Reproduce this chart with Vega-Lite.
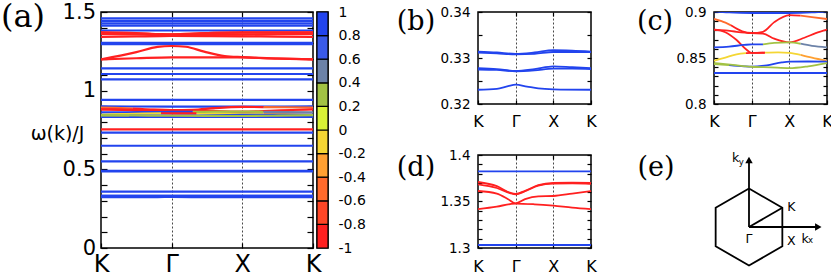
{
"$schema":"https://vega.github.io/schema/vega-lite/v6.json",
"padding":{"left":0,"top":0,"right":0,"bottom":0},
"spacing":29,
"config":{"view":{"stroke":"black","strokeWidth":1.5},"axis":{"domain":false,"grid":false,"tickColor":"black","tickWidth":1.2,"labelFont":"DejaVu Sans","labelColor":"black"}},
"datasets":{
"bands":[
{"s":"b1","k":0,"w":0.3231,"c":1},{"s":"b1","k":0.5,"w":0.3233,"c":1},{"s":"b1","k":0.8,"w":0.3239,"c":1},{"s":"b1","k":1,"w":0.3242,"c":1},{"s":"b1","k":1.3,"w":0.3238,"c":1},{"s":"b1","k":1.6,"w":0.3234,"c":1},{"s":"b1","k":2,"w":0.3232,"c":1},{"s":"b1","k":3,"w":0.3231,"c":1},
{"s":"b2a","k":0,"w":0.3278,"c":1},{"s":"b2a","k":0.5,"w":0.3276,"c":1},{"s":"b2a","k":1,"w":0.3272,"c":1},{"s":"b2a","k":1.5,"w":0.3276,"c":1},{"s":"b2a","k":2,"w":0.3282,"c":1},{"s":"b2a","k":2.5,"w":0.328,"c":1},{"s":"b2a","k":3,"w":0.3278,"c":1},
{"s":"b2b","k":0,"w":0.3275,"c":1},{"s":"b2b","k":0.5,"w":0.3274,"c":1},{"s":"b2b","k":1,"w":0.3271,"c":1},{"s":"b2b","k":1.5,"w":0.3273,"c":1},{"s":"b2b","k":2,"w":0.3277,"c":1},{"s":"b2b","k":2.5,"w":0.3277,"c":1},{"s":"b2b","k":3,"w":0.3276,"c":1},
{"s":"b3a","k":0,"w":0.3314,"c":1},{"s":"b3a","k":0.5,"w":0.3312,"c":1},{"s":"b3a","k":1,"w":0.3309,"c":1},{"s":"b3a","k":1.5,"w":0.3312,"c":1},{"s":"b3a","k":2,"w":0.3317,"c":1},{"s":"b3a","k":2.5,"w":0.3316,"c":1},{"s":"b3a","k":3,"w":0.3314,"c":1},
{"s":"b3b","k":0,"w":0.3312,"c":1},{"s":"b3b","k":0.5,"w":0.331,"c":1},{"s":"b3b","k":1,"w":0.3308,"c":1},{"s":"b3b","k":1.5,"w":0.3309,"c":1},{"s":"b3b","k":2,"w":0.3313,"c":1},{"s":"b3b","k":2.5,"w":0.3313,"c":1},{"s":"b3b","k":3,"w":0.3313,"c":1},
{"s":"f1","k":0,"w":0.358,"c":1},{"s":"f1","k":3,"w":0.358,"c":1},
{"s":"f2","k":0,"w":0.487,"c":1},{"s":"f2","k":3,"w":0.487,"c":1},
{"s":"f3","k":0,"w":0.491,"c":1},{"s":"f3","k":3,"w":0.491,"c":1},
{"s":"f4","k":0,"w":0.551,"c":1},{"s":"f4","k":3,"w":0.551,"c":1},
{"s":"f5","k":0,"w":0.65,"c":1},{"s":"f5","k":3,"w":0.65,"c":1},
{"s":"f6","k":0,"w":0.733,"c":1},{"s":"f6","k":3,"w":0.733,"c":1},
{"s":"r0","k":0,"w":0.754,"c":-0.9},{"s":"r0","k":3,"w":0.754,"c":-0.9},
{"s":"f7","k":0,"w":0.8337,"c":1},{"s":"f7","k":3,"w":0.8337,"c":1},
{"s":"f8","k":0,"w":0.941,"c":1},{"s":"f8","k":3,"w":0.941,"c":1},
{"s":"f9","k":0,"w":1.072,"c":1},{"s":"f9","k":3,"w":1.072,"c":1},
{"s":"f10","k":0,"w":1.106,"c":1},{"s":"f10","k":3,"w":1.106,"c":1},
{"s":"f11","k":0,"w":1.142,"c":1},{"s":"f11","k":3,"w":1.142,"c":1},
{"s":"f12","k":0,"w":1.296,"c":1},{"s":"f12","k":3,"w":1.296,"c":1},
{"s":"f13","k":0,"w":1.3032,"c":1},{"s":"f13","k":3,"w":1.3032,"c":1},
{"s":"f14","k":0,"w":1.3825,"c":1},{"s":"f14","k":3,"w":1.3825,"c":1},
{"s":"f15","k":0,"w":1.413,"c":1},{"s":"f15","k":3,"w":1.413,"c":1},
{"s":"f16","k":0,"w":1.428,"c":1},{"s":"f16","k":3,"w":1.428,"c":1},
{"s":"f17","k":0,"w":1.443,"c":1},{"s":"f17","k":3,"w":1.443,"c":1},
{"s":"f18","k":0,"w":1.46,"c":1},{"s":"f18","k":3,"w":1.46,"c":1},
{"s":"t9","k":0,"w":0.9008,"c":1},{"s":"t9","k":0.4,"w":0.8995,"c":1},{"s":"t9","k":1,"w":0.8989,"c":1},{"s":"t9","k":2,"w":0.8989,"c":1},{"s":"t9","k":2.6,"w":0.8995,"c":1},{"s":"t9","k":3,"w":0.9008,"c":1},
{"s":"A1","k":0,"w":0.8924,"c":-0.5},{"s":"A1","k":0.2,"w":0.89,"c":-0.5},{"s":"A1","k":0.45,"w":0.8855,"c":-0.5},
{"s":"A2","k":0.45,"w":0.8855,"c":-0.9},{"s":"A2","k":0.75,"w":0.879,"c":-0.9},{"s":"A2","k":1,"w":0.8772,"c":-0.9},{"s":"A2","k":1.3,"w":0.8785,"c":-0.9},{"s":"A2","k":1.6,"w":0.889,"c":-0.9},{"s":"A2","k":2,"w":0.8967,"c":-0.9},{"s":"A2","k":2.3,"w":0.896,"c":-0.9},
{"s":"A3","k":2.3,"w":0.896,"c":-0.5},{"s":"A3","k":2.6,"w":0.8945,"c":-0.5},{"s":"A3","k":3,"w":0.8924,"c":-0.5},
{"s":"B1","k":0,"w":0.8808,"c":-0.9},{"s":"B1","k":0.3,"w":0.878,"c":-0.9},{"s":"B1","k":0.6,"w":0.8695,"c":-0.9},{"s":"B1","k":0.85,"w":0.8595,"c":-0.9},{"s":"B1","k":1,"w":0.8555,"c":-0.9},{"s":"B1","k":1.35,"w":0.8558,"c":-0.9},
{"s":"B2","k":1.35,"w":0.8558,"c":-0.05},{"s":"B2","k":1.7,"w":0.8561,"c":-0.05},{"s":"B2","k":2,"w":0.8556,"c":-0.05},{"s":"B2","k":2.3,"w":0.8535,"c":-0.05},
{"s":"B3","k":2.3,"w":0.8535,"c":-0.3},{"s":"B3","k":2.6,"w":0.8505,"c":-0.3},{"s":"B3","k":3,"w":0.847,"c":-0.3},
{"s":"C1","k":0,"w":0.8808,"c":-0.9},{"s":"C1","k":0.3,"w":0.88,"c":-0.9},{"s":"C1","k":0.6,"w":0.8785,"c":-0.9},{"s":"C1","k":1,"w":0.877,"c":-0.9},{"s":"C1","k":1.3,"w":0.8765,"c":-0.9},{"s":"C1","k":1.6,"w":0.871,"c":-0.9},{"s":"C1","k":2,"w":0.867,"c":-0.9},{"s":"C1","k":2.4,"w":0.872,"c":-0.9},{"s":"C1","k":2.7,"w":0.877,"c":-0.9},{"s":"C1","k":3,"w":0.8808,"c":-0.9},
{"s":"E1","k":0,"w":0.8616,"c":0.9},{"s":"E1","k":0.4,"w":0.8624,"c":0.9},{"s":"E1","k":0.8,"w":0.8642,"c":0.9},{"s":"E1","k":1,"w":0.8648,"c":0.9},{"s":"E1","k":1.3,"w":0.8648,"c":0.9},
{"s":"E2","k":1.3,"w":0.8648,"c":0.3},{"s":"E2","k":1.6,"w":0.8665,"c":0.3},{"s":"E2","k":2,"w":0.867,"c":0.3},{"s":"E2","k":2.3,"w":0.8655,"c":0.3},
{"s":"E3","k":2.3,"w":0.8655,"c":0.5},{"s":"E3","k":2.6,"w":0.8632,"c":0.5},{"s":"E3","k":3,"w":0.8616,"c":0.5},
{"s":"D1","k":0,"w":0.847,"c":-0.05},{"s":"D1","k":0.3,"w":0.8505,"c":-0.05},{"s":"D1","k":0.6,"w":0.854,"c":-0.05},{"s":"D1","k":0.85,"w":0.8553,"c":-0.05},
{"s":"D2","k":0.85,"w":0.8553,"c":-0.9},{"s":"D2","k":1,"w":0.8555,"c":-0.9},{"s":"D2","k":1.35,"w":0.8557,"c":-0.9},
{"s":"F1","k":0,"w":0.8434,"c":0.3},{"s":"F1","k":0.4,"w":0.8422,"c":0.3},
{"s":"F2","k":0.4,"w":0.8422,"c":0.9},{"s":"F2","k":0.8,"w":0.841,"c":0.9},{"s":"F2","k":1,"w":0.8407,"c":0.9},{"s":"F2","k":1.4,"w":0.842,"c":0.9},{"s":"F2","k":1.8,"w":0.8452,"c":0.9},{"s":"F2","k":2,"w":0.846,"c":0.9},{"s":"F2","k":2.5,"w":0.8462,"c":0.9},{"s":"F2","k":3,"w":0.846,"c":0.9},
{"s":"G1","k":0,"w":0.8445,"c":0.3},{"s":"G1","k":0.5,"w":0.8425,"c":0.3},{"s":"G1","k":1,"w":0.8405,"c":0.3},{"s":"G1","k":1.5,"w":0.8398,"c":0.3},{"s":"G1","k":2,"w":0.839,"c":0.3},{"s":"G1","k":2.5,"w":0.841,"c":0.3},{"s":"G1","k":3,"w":0.8445,"c":0.3},
{"s":"r1","k":0,"w":1.199,"c":-0.9},{"s":"r1","k":0.5,"w":1.245,"c":-0.9},{"s":"r1","k":0.8,"w":1.278,"c":-0.9},{"s":"r1","k":1,"w":1.284,"c":-0.9},{"s":"r1","k":1.2,"w":1.279,"c":-0.9},{"s":"r1","k":1.46,"w":1.248,"c":-0.9},{"s":"r1","k":1.75,"w":1.22,"c":-0.9},{"s":"r1","k":2,"w":1.213,"c":-0.9},{"s":"r1","k":2.4,"w":1.206,"c":-0.9},{"s":"r1","k":3,"w":1.199,"c":-0.9},
{"s":"r2","k":0,"w":1.199,"c":-0.9},{"s":"r2","k":0.5,"w":1.206,"c":-0.9},{"s":"r2","k":1,"w":1.212,"c":-0.9},{"s":"r2","k":1.5,"w":1.212,"c":-0.9},{"s":"r2","k":2,"w":1.211,"c":-0.9},{"s":"r2","k":2.5,"w":1.204,"c":-0.9},{"s":"r2","k":3,"w":1.199,"c":-0.9},
{"s":"d1","k":0,"w":1.371,"c":-0.9},{"s":"d1","k":0.5,"w":1.3665,"c":-0.9},{"s":"d1","k":0.85,"w":1.3595,"c":-0.9},{"s":"d1","k":1,"w":1.3583,"c":-0.9},{"s":"d1","k":1.25,"w":1.3615,"c":-0.9},{"s":"d1","k":1.6,"w":1.3675,"c":-0.9},{"s":"d1","k":2,"w":1.37,"c":-0.9},{"s":"d1","k":2.5,"w":1.3702,"c":-0.9},{"s":"d1","k":3,"w":1.37,"c":-0.9},
{"s":"d2","k":0,"w":1.3685,"c":-0.9},{"s":"d2","k":0.5,"w":1.3645,"c":-0.9},{"s":"d2","k":0.85,"w":1.359,"c":-0.9},{"s":"d2","k":1,"w":1.3577,"c":-0.9},{"s":"d2","k":1.25,"w":1.361,"c":-0.9},{"s":"d2","k":1.6,"w":1.367,"c":-0.9},{"s":"d2","k":2,"w":1.3692,"c":-0.9},{"s":"d2","k":2.5,"w":1.3694,"c":-0.9},{"s":"d2","k":3,"w":1.369,"c":-0.9},
{"s":"d3","k":0,"w":1.3613,"c":-0.9},{"s":"d3","k":0.5,"w":1.3585,"c":-0.9},{"s":"d3","k":0.8,"w":1.3525,"c":-0.9},{"s":"d3","k":1,"w":1.348,"c":-0.9},{"s":"d3","k":1.25,"w":1.3525,"c":-0.9},{"s":"d3","k":1.6,"w":1.3555,"c":-0.9},{"s":"d3","k":2,"w":1.3559,"c":-0.9},{"s":"d3","k":2.5,"w":1.3585,"c":-0.9},{"s":"d3","k":3,"w":1.3613,"c":-0.9},
{"s":"d4","k":0,"w":1.3419,"c":-0.9},{"s":"d4","k":0.5,"w":1.3445,"c":-0.9},{"s":"d4","k":0.85,"w":1.3472,"c":-0.9},{"s":"d4","k":1,"w":1.3478,"c":-0.9},{"s":"d4","k":1.5,"w":1.347,"c":-0.9},{"s":"d4","k":2,"w":1.3455,"c":-0.9},{"s":"d4","k":2.5,"w":1.3435,"c":-0.9},{"s":"d4","k":3,"w":1.3419,"c":-0.9}
],
"cbar":[{"lo":-1,"hi":-0.8,"c":-0.9},{"lo":-0.8,"hi":-0.6,"c":-0.7},{"lo":-0.6,"hi":-0.4,"c":-0.5},{"lo":-0.4,"hi":-0.2,"c":-0.3},{"lo":-0.2,"hi":0,"c":-0.1},{"lo":0,"hi":0.2,"c":0.1},{"lo":0.2,"hi":0.4,"c":0.3},{"lo":0.4,"hi":0.6,"c":0.5},{"lo":0.6,"hi":0.8,"c":0.7},{"lo":0.8,"hi":1,"c":0.9}],
"geo":[
{"g":"hex","o":0,"x":0,"y":1},{"g":"hex","o":1,"x":0.866,"y":0.5},{"g":"hex","o":2,"x":0.866,"y":-0.5},{"g":"hex","o":3,"x":0,"y":-1},{"g":"hex","o":4,"x":-0.866,"y":-0.5},{"g":"hex","o":5,"x":-0.866,"y":0.5},{"g":"hex","o":6,"x":0,"y":1},
{"g":"gk","o":0,"x":0,"y":0},{"g":"gk","o":1,"x":0.866,"y":0.5},
{"g":"ky","o":0,"x":0,"y":0},{"g":"ky","o":1,"x":0,"y":1.74},
{"g":"kx","o":0,"x":0,"y":0},{"g":"kx","o":1,"x":1.8,"y":0}
],
"arrows":[{"a":"ky","x":0,"y":1.74},{"a":"kx","x":1.8,"y":0}],
"lbl":[{"t":"K","x":1.1,"y":0.51},{"t":"X","x":1.1,"y":-0.356},{"t":"Γ","x":0,"y":-0.32},{"t":"k","x":-0.35,"y":1.79},{"t":"k","x":1.46,"y":-0.3}],
"sub":[{"t":"y","x":-0.2,"y":1.7},{"t":"x","x":1.6,"y":-0.35}]
},
"hconcat":[
{"hconcat":[
 {"width":212,"height":236,
  "layer":[
   {"data":{"name":"bands"},"mark":{"type":"line","interpolate":"monotone","strokeWidth":2.2,"clip":true},
    "encoding":{
     "x":{"field":"k","type":"quantitative","scale":{"domain":[0,3],"nice":false,"zero":false},
      "axis":{"orient":"bottom","values":[0,1,2,3],"labelExpr":"['K','Γ','X','K'][datum.value]","labelFontSize":24,"labelFlush":false,"labelOverlap":false,"tickSize":-5,"labelPadding":9.6,"title":null}},
     "y":{"field":"w","type":"quantitative","scale":{"domain":[0,1.5],"nice":false,"zero":false},
      "axis":{"values":[0,0.1,0.2,0.3,0.4,0.5,0.6,0.7,0.8,0.9,1,1.1,1.2,1.3,1.4,1.5],"labelExpr":"abs(datum.value*2-round(datum.value*2))<1e-6 ? format(datum.value,'~g') : ''","labelFontSize":21,"labelOverlap":false,"tickSize":-6,"labelPadding":11.5,
       "title":"ω(k)/J","titleAngle":0,"titleX":-44,"titleY":121,"titleAlign":"center","titleBaseline":"middle","titleFontSize":19,"titleFontWeight":"normal","titleFont":"DejaVu Sans","titleColor":"black"}},
     "detail":{"field":"s"},
     "color":{"field":"c","type":"quantitative","scale":{"type":"quantize","domain":[-1,1],"range":["#ff2020","#ff4626","#ff6a2c","#ffa032","#f4d634","#d8f236","#a2c244","#6c82a8","#3a5ae8","#2244ee"]},"legend":null}}},
   {"data":{"values":[{"t":"(a)"}]},"mark":{"type":"text","font":"DejaVu Serif","fontSize":32,"align":"center","baseline":"middle","color":"black"},
    "encoding":{
     "text":{"field":"t"},
     "x":{"datum":-1.105,"type":"quantitative","scale":{"domain":[0,3],"nice":false,"zero":false},"axis":{"orient":"top","values":[1,2],"labels":false,"tickSize":-5,"grid":true,"gridDash":[2,2],"gridColor":"#333","gridWidth":0.9,"title":null}},
     "y":{"datum":1.468,"type":"quantitative","scale":{"domain":[0,1.5],"nice":false,"zero":false},"axis":{"orient":"right","values":[0,0.1,0.2,0.3,0.4,0.5,0.6,0.7,0.8,0.9,1,1.1,1.2,1.3,1.4,1.5],"labels":false,"tickSize":-6,"title":null}}}}
  ],
  "resolve":{"scale":{"x":"independent","y":"independent"}}},
 {"width":11,"height":236,"data":{"name":"cbar"},
  "mark":{"type":"rect","stroke":"black","strokeWidth":1.2},
  "encoding":{
   "x":{"value":0},"x2":{"value":"width"},
   "y":{"field":"lo","type":"quantitative","scale":{"domain":[-1,1],"nice":false,"zero":false},
    "axis":{"orient":"right","values":[-1,-0.8,-0.6,-0.4,-0.2,0,0.2,0.4,0.6,0.8,1],"ticks":false,"labelPadding":10,"labelFontSize":14,"labelOverlap":false,"labelExpr":"(datum.value < 0 ? '-' : '') + format(abs(datum.value),'.1~g')","title":null}},
   "y2":{"field":"hi"},
   "color":{"field":"c","type":"quantitative","scale":{"type":"quantize","domain":[-1,1],"range":["#ff2020","#ff4626","#ff6a2c","#ffa032","#f4d634","#d8f236","#a2c244","#6c82a8","#3a5ae8","#2244ee"]},"legend":null}}}
 ],"spacing":4,"bounds":"flush"},
{"hconcat":[
 {"vconcat":[
  {"width":113,"height":92,
   "layer":[
    {"data":{"name":"bands"},"mark":{"type":"line","interpolate":"monotone","strokeWidth":1.8,"clip":true},
     "encoding":{
      "x":{"field":"k","type":"quantitative","scale":{"domain":[0,3],"nice":false,"zero":false},
       "axis":{"orient":"bottom","values":[0,1,2,3],"labelExpr":"['K','Γ','X','K'][datum.value]","labelFontSize":16,"labelFlush":false,"labelOverlap":false,"tickSize":-4,"labelPadding":13.5,"title":null}},
      "y":{"field":"w","type":"quantitative","scale":{"domain":[0.32,0.34],"nice":false,"zero":false},
       "axis":{"values":[0.32,0.325,0.33,0.335,0.34],"labelExpr":"abs(datum.value*100-round(datum.value*100))<1e-6 ? format(datum.value,'.2f') : ''","labelFontSize":13.5,"labelOverlap":false,"tickSize":-4,"labelPadding":12,"title":null}},
      "detail":{"field":"s"},
      "color":{"field":"c","type":"quantitative","scale":{"type":"quantize","domain":[-1,1],"range":["#ff2020","#ff4626","#ff6a2c","#ffa032","#f4d634","#d8f236","#a2c244","#6c82a8","#3a5ae8","#2244ee"]},"legend":null}}},
    {"data":{"values":[{"t":"(b)"}]},"mark":{"type":"text","font":"DejaVu Serif","fontSize":27,"align":"center","baseline":"middle","color":"black"},
     "encoding":{
      "text":{"field":"t"},
      "x":{"datum":-1.646,"type":"quantitative","scale":{"domain":[0,3],"nice":false,"zero":false},"axis":{"orient":"top","values":[1,2],"labels":false,"tickSize":-4,"grid":true,"gridDash":[2,2],"gridColor":"#333","gridWidth":0.9,"title":null}},
      "y":{"datum":0.3379,"type":"quantitative","scale":{"domain":[0.32,0.34],"nice":false,"zero":false},"axis":{"orient":"right","values":[0.32,0.325,0.33,0.335,0.34],"labels":false,"tickSize":-4,"title":null}}}}
   ],
   "resolve":{"scale":{"x":"independent","y":"independent"}}},
  {"width":113,"height":93,
   "layer":[
    {"data":{"name":"bands"},"mark":{"type":"line","interpolate":"monotone","strokeWidth":1.8,"clip":true},
     "encoding":{
      "x":{"field":"k","type":"quantitative","scale":{"domain":[0,3],"nice":false,"zero":false},
       "axis":{"orient":"bottom","values":[0,1,2,3],"labelExpr":"['K','Γ','X','K'][datum.value]","labelFontSize":16,"labelFlush":false,"labelOverlap":false,"tickSize":-4,"labelPadding":14.5,"title":null}},
      "y":{"field":"w","type":"quantitative","scale":{"domain":[1.3,1.4],"nice":false,"zero":false},
       "axis":{"values":[1.3,1.31,1.32,1.33,1.34,1.35,1.36,1.37,1.38,1.39,1.4],"labelExpr":"abs(datum.value*20-round(datum.value*20))<1e-6 ? format(datum.value,'~g') : ''","labelFontSize":13.5,"labelOverlap":false,"tickSize":-4,"labelPadding":12,"title":null}},
      "detail":{"field":"s"},
      "color":{"field":"c","type":"quantitative","scale":{"type":"quantize","domain":[-1,1],"range":["#ff2020","#ff4626","#ff6a2c","#ffa032","#f4d634","#d8f236","#a2c244","#6c82a8","#3a5ae8","#2244ee"]},"legend":null}}},
    {"data":{"values":[{"t":"(d)"}]},"mark":{"type":"text","font":"DejaVu Serif","fontSize":27,"align":"center","baseline":"middle","color":"black"},
     "encoding":{
      "text":{"field":"t"},
      "x":{"datum":-1.646,"type":"quantitative","scale":{"domain":[0,3],"nice":false,"zero":false},"axis":{"orient":"top","values":[1,2],"labels":false,"tickSize":-4,"grid":true,"gridDash":[2,2],"gridColor":"#333","gridWidth":0.9,"title":null}},
      "y":{"datum":1.386,"type":"quantitative","scale":{"domain":[1.3,1.4],"nice":false,"zero":false},"axis":{"orient":"right","values":[1.3,1.31,1.32,1.33,1.34,1.35,1.36,1.37,1.38,1.39,1.4],"labels":false,"tickSize":-4,"title":null}}}}
   ],
   "resolve":{"scale":{"x":"independent","y":"independent"}}}
 ],"spacing":51,"bounds":"flush"},
 {"vconcat":[
  {"width":113,"height":92,
   "layer":[
    {"data":{"name":"bands"},"mark":{"type":"line","interpolate":"monotone","strokeWidth":1.8,"clip":true},
     "encoding":{
      "x":{"field":"k","type":"quantitative","scale":{"domain":[0,3],"nice":false,"zero":false},
       "axis":{"orient":"bottom","values":[0,1,2,3],"labelExpr":"['K','Γ','X','K'][datum.value]","labelFontSize":16,"labelFlush":false,"labelOverlap":false,"tickSize":-4,"labelPadding":13.5,"title":null}},
      "y":{"field":"w","type":"quantitative","scale":{"domain":[0.8,0.9],"nice":false,"zero":false},
       "axis":{"values":[0.8,0.81,0.82,0.83,0.84,0.85,0.86,0.87,0.88,0.89,0.9],"labelExpr":"abs(datum.value*20-round(datum.value*20))<1e-6 ? format(datum.value,'~g') : ''","labelFontSize":13.5,"labelOverlap":false,"tickSize":-4,"labelPadding":12,"title":null}},
      "detail":{"field":"s"},
      "color":{"field":"c","type":"quantitative","scale":{"type":"quantize","domain":[-1,1],"range":["#ff2020","#ff4626","#ff6a2c","#ffa032","#f4d634","#d8f236","#a2c244","#6c82a8","#3a5ae8","#2244ee"]},"legend":null}}},
    {"data":{"values":[{"t":"(c)"}]},"mark":{"type":"text","font":"DejaVu Serif","fontSize":27,"align":"center","baseline":"middle","color":"black"},
     "encoding":{
      "text":{"field":"t"},
      "x":{"datum":-1.566,"type":"quantitative","scale":{"domain":[0,3],"nice":false,"zero":false},"axis":{"orient":"top","values":[1,2],"labels":false,"tickSize":-4,"grid":true,"gridDash":[2,2],"gridColor":"#333","gridWidth":0.9,"title":null}},
      "y":{"datum":0.8895,"type":"quantitative","scale":{"domain":[0.8,0.9],"nice":false,"zero":false},"axis":{"orient":"right","values":[0.8,0.81,0.82,0.83,0.84,0.85,0.86,0.87,0.88,0.89,0.9],"labels":false,"tickSize":-4,"title":null}}}}
   ],
   "resolve":{"scale":{"x":"independent","y":"independent"}}},
  {"width":113,"height":93,"view":{"stroke":null},
   "layer":[
    {"data":{"name":"geo"},"mark":{"type":"line","color":"black","strokeWidth":1.8},
     "encoding":{
      "x":{"field":"x","type":"quantitative","scale":{"domain":[-0.909,2.026],"nice":false,"zero":false},"axis":null},
      "y":{"field":"y","type":"quantitative","scale":{"domain":[-0.545,1.87],"nice":false,"zero":false},"axis":null},
      "detail":{"field":"g"},"order":{"field":"o"}}},
    {"data":{"name":"arrows"},"mark":{"type":"point","filled":true,"color":"black","opacity":1,"size":55},
     "encoding":{"x":{"field":"x","type":"quantitative"},"y":{"field":"y","type":"quantitative"},
      "shape":{"field":"a","type":"nominal","scale":{"domain":["ky","kx"],"range":["triangle-up","triangle-right"]},"legend":null}}},
    {"data":{"name":"lbl"},"mark":{"type":"text","fontSize":12.5,"font":"DejaVu Sans","color":"black"},
     "encoding":{"x":{"field":"x","type":"quantitative"},"y":{"field":"y","type":"quantitative"},"text":{"field":"t"}}},
    {"data":{"name":"sub"},"mark":{"type":"text","fontSize":8.5,"font":"DejaVu Sans","color":"black"},
     "encoding":{"x":{"field":"x","type":"quantitative"},"y":{"field":"y","type":"quantitative"},"text":{"field":"t"}}},
    {"data":{"values":[{"t":"(e)"}]},"mark":{"type":"text","font":"DejaVu Serif","fontSize":27,"align":"center","baseline":"middle","color":"black"},
     "encoding":{"text":{"field":"t"},"x":{"datum":-2.416,"type":"quantitative"},"y":{"datum":1.532,"type":"quantitative"}}}
   ]}
 ],"spacing":51,"bounds":"flush"}
],"spacing":39}
]
}
